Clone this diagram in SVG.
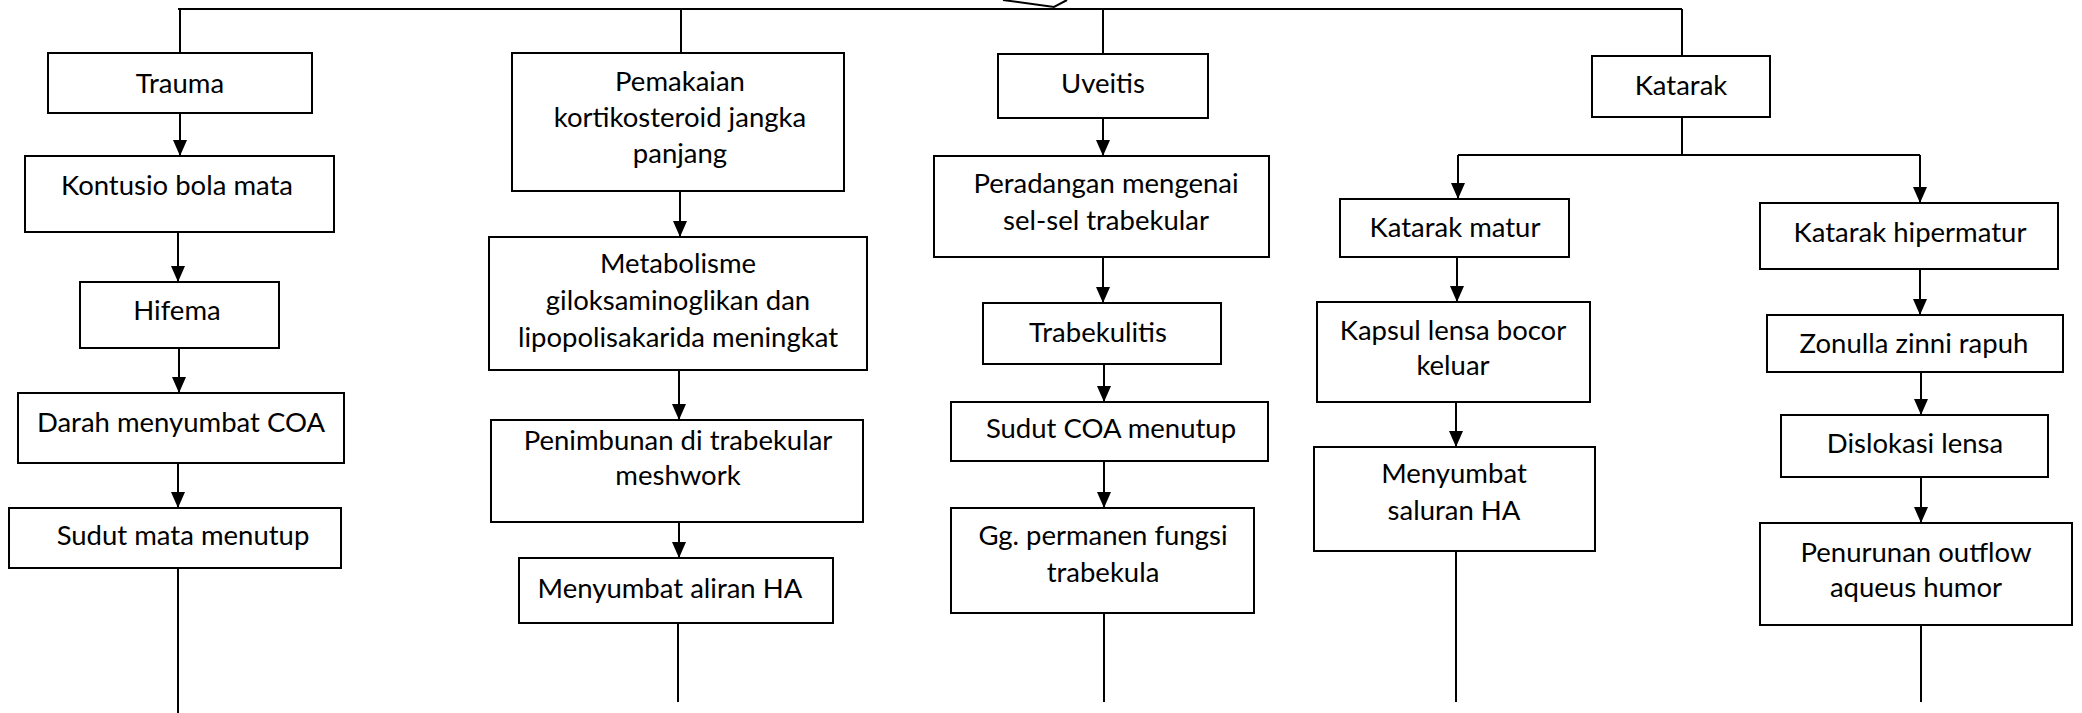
<svg xmlns="http://www.w3.org/2000/svg" width="2082" height="713" viewBox="0 0 2082 713">
<style>
rect{fill:#fff;stroke:#000;stroke-width:2}
text{font-family:Lato,"Liberation Sans",sans-serif;font-size:27.5px;fill:#000;text-anchor:middle}
.c line,.c polyline{stroke:#000;stroke-width:2;fill:none}
.a{marker-end:url(#ah)}
</style>
<defs>
<marker id="ah" markerUnits="userSpaceOnUse" markerWidth="16" markerHeight="14" refX="16" refY="7" orient="auto"><path d="M0,0 L16,7 L0,14 z" fill="#000"/></marker>
</defs>
<g class="c" id="connectors">
<line x1="178" y1="9" x2="1682" y2="9"/>
<polyline points="1003,0 1054,7 1067,0"/>
<line x1="180" y1="9" x2="180" y2="53"/>
<line x1="681" y1="9" x2="681" y2="53"/>
<line x1="1103" y1="9" x2="1103" y2="54"/>
<line x1="1682" y1="9" x2="1682" y2="56"/>
<line class="a" x1="180" y1="113" x2="180" y2="156"/>
<line class="a" x1="178" y1="232" x2="178" y2="282"/>
<line class="a" x1="179" y1="348" x2="179" y2="393"/>
<line class="a" x1="178" y1="463" x2="178" y2="508"/>
<line x1="178" y1="568" x2="178" y2="713"/>
<line class="a" x1="680" y1="191" x2="680" y2="237"/>
<line class="a" x1="679" y1="370" x2="679" y2="420"/>
<line class="a" x1="679" y1="522" x2="679" y2="558"/>
<line x1="678" y1="623" x2="678" y2="702"/>
<line class="a" x1="1103" y1="118" x2="1103" y2="156"/>
<line class="a" x1="1103" y1="257" x2="1103" y2="303"/>
<line class="a" x1="1104" y1="364" x2="1104" y2="402"/>
<line class="a" x1="1104" y1="461" x2="1104" y2="508"/>
<line x1="1104" y1="613" x2="1104" y2="702"/>
<line x1="1682" y1="117" x2="1682" y2="155"/>
<line x1="1458" y1="155" x2="1920" y2="155"/>
<line class="a" x1="1458" y1="155" x2="1458" y2="199"/>
<line class="a" x1="1920" y1="155" x2="1920" y2="203"/>
<line class="a" x1="1457" y1="257" x2="1457" y2="302"/>
<line class="a" x1="1920" y1="269" x2="1920" y2="315"/>
<line class="a" x1="1456" y1="402" x2="1456" y2="447"/>
<line class="a" x1="1921" y1="372" x2="1921" y2="415"/>
<line class="a" x1="1921" y1="477" x2="1921" y2="523"/>
<line x1="1456" y1="551" x2="1456" y2="702"/>
<line x1="1921" y1="625" x2="1921" y2="702"/>
</g>
<g id="n-trauma"><rect x="48" y="53" width="264" height="60"/><text x="180" y="93">Trauma</text></g>
<g id="n-kontusio"><rect x="25" y="156" width="309" height="76"/><text x="177" y="195">Kontusio bola mata</text></g>
<g id="n-hifema"><rect x="80" y="282" width="199" height="66"/><text x="177" y="320">Hifema</text></g>
<g id="n-darah"><rect x="18" y="393" width="326" height="70"/><text x="181" y="432">Darah menyumbat COA</text></g>
<g id="n-sudutmata"><rect x="9" y="508" width="332" height="60"/><text x="183" y="545">Sudut mata menutup</text></g>
<g id="n-pemakaian"><rect x="512" y="53" width="332" height="138"/><text x="680" y="91">Pemakaian</text><text x="680" y="127">kortikosteroid jangka</text><text x="680" y="163">panjang</text></g>
<g id="n-metabolisme"><rect x="489" y="237" width="378" height="133"/><text x="678" y="273">Metabolisme</text><text x="678" y="310">giloksaminoglikan dan</text><text x="678" y="347">lipopolisakarida meningkat</text></g>
<g id="n-penimbunan"><rect x="491" y="420" width="372" height="102"/><text x="678" y="450">Penimbunan di trabekular</text><text x="678" y="485">meshwork</text></g>
<g id="n-menyumbataliran"><rect x="519" y="558" width="314" height="65"/><text x="670" y="598">Menyumbat aliran HA</text></g>
<g id="n-uveitis"><rect x="998" y="54" width="210" height="64"/><text x="1103" y="93">Uveitis</text></g>
<g id="n-peradangan"><rect x="934" y="156" width="335" height="101"/><text x="1106" y="193">Peradangan mengenai</text><text x="1106" y="230">sel-sel trabekular</text></g>
<g id="n-trabekulitis"><rect x="983" y="303" width="238" height="61"/><text x="1098" y="342">Trabekulitis</text></g>
<g id="n-sudutcoa"><rect x="951" y="402" width="317" height="59"/><text x="1111" y="438">Sudut COA menutup</text></g>
<g id="n-gg"><rect x="951" y="508" width="303" height="105"/><text x="1103" y="545">Gg. permanen fungsi</text><text x="1103" y="582">trabekula</text></g>
<g id="n-katarak"><rect x="1592" y="56" width="178" height="61"/><text x="1681" y="95">Katarak</text></g>
<g id="n-matur"><rect x="1340" y="199" width="229" height="58"/><text x="1455" y="237">Katarak matur</text></g>
<g id="n-hipermatur"><rect x="1760" y="203" width="298" height="66"/><text x="1910" y="242">Katarak hipermatur</text></g>
<g id="n-kapsul"><rect x="1317" y="302" width="273" height="100"/><text x="1453" y="340">Kapsul lensa bocor</text><text x="1453" y="375">keluar</text></g>
<g id="n-menyumbatsaluran"><rect x="1314" y="447" width="281" height="104"/><text x="1454" y="483">Menyumbat</text><text x="1454" y="520">saluran HA</text></g>
<g id="n-zonulla"><rect x="1767" y="315" width="296" height="57"/><text x="1914" y="353">Zonulla zinni rapuh</text></g>
<g id="n-dislokasi"><rect x="1781" y="415" width="267" height="62"/><text x="1915" y="453">Dislokasi lensa</text></g>
<g id="n-penurunan"><rect x="1760" y="523" width="312" height="102"/><text x="1916" y="562">Penurunan outflow</text><text x="1916" y="597">aqueus humor</text></g>
</svg>
